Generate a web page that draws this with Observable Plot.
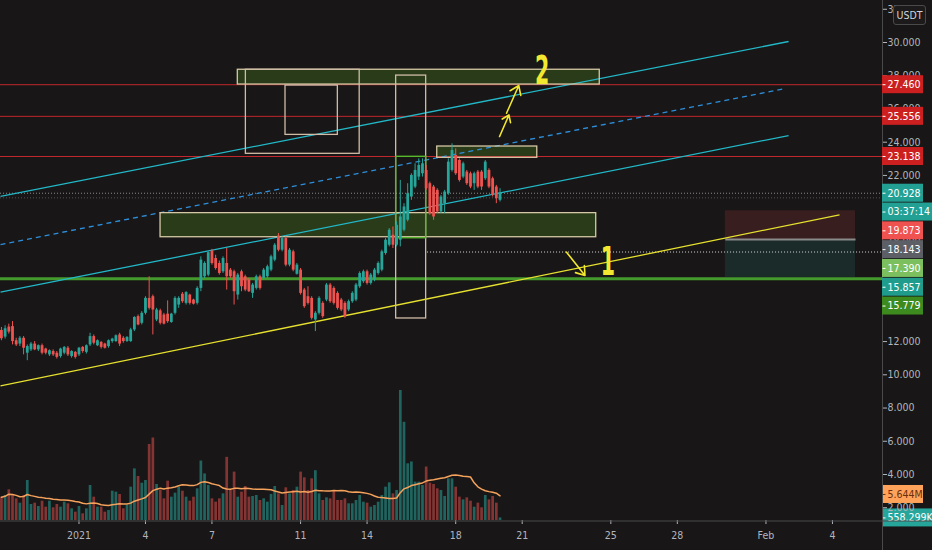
<!DOCTYPE html>
<html><head><meta charset="utf-8">
<script src="https://cdn.jsdelivr.net/npm/d3@7"></script>
<script src="https://cdn.jsdelivr.net/npm/@observablehq/plot@0.6"></script>
<style>
html,body{margin:0;padding:0;background:#181616;overflow:hidden;}
#chart{position:relative;width:932px;height:550px;background:#181616;}
#chart svg{position:absolute;left:0;top:0;}
#usdt{position:absolute;left:893px;top:5px;width:31px;height:18px;border:1px solid #4a4a4a;border-radius:3px;background:#1c1a1a;color:#d1d4dc;font:10.5px 'DejaVu Sans Condensed',sans-serif;line-height:18px;text-align:center;}
</style></head><body>
<div id="chart"></div>
<script>
// ---------- candle data (4h candles) ----------
const candleStart = "2020-12-28T12:00Z";
const candleHours = 4;
const open  = [12.67,12.27,12.87,12.90,12.05,11.85,12.20,11.30,11.50,11.85,11.50,11.75,11.55,11.20,11.40,11.30,11.10,11.30,11.60,11.10,11.35,11.20,11.65,11.35,11.80,12.30,11.75,11.95,11.85,11.70,12.00,12.00,12.40,12.20,12.00,12.00,12.70,13.50,13.10,13.70,14.60,14.70,13.30,13.85,13.60,13.65,13.15,13.70,14.20,14.85,14.30,14.80,14.50,14.30,15.20,15.90,16.00,17.45,17.00,16.70,16.20,16.70,16.30,16.20,14.80,16.20,15.90,15.70,14.90,15.20,15.90,15.80,15.90,16.30,16.90,18.35,17.50,18.20,16.60,17.40,16.05,16.30,15.10,14.70,14.60,13.30,13.70,14.30,14.50,15.40,15.20,14.90,14.50,14.30,13.90,14.40,14.50,15.30,15.60,16.20,15.50,15.70,16.10,16.30,17.30,17.80,18.40,17.80,18.10,18.70,19.30,20.70,21.30,21.90,22.10,22.30,21.50,21.30,21.10,19.80,20.30,20.90,22.30,23.20,22.90,21.90,22.20,22.10,21.50,22.20,22.20,21.80,22.30,21.80,21.30,20.50];
const high  = [12.85,12.95,13.05,13.20,12.20,12.30,12.30,11.80,11.95,12.00,11.80,11.85,11.60,11.50,11.50,11.40,11.60,11.70,11.70,11.45,11.40,11.65,11.70,11.80,12.50,12.40,12.10,12.00,11.90,12.10,12.20,12.40,12.50,12.30,12.30,12.80,13.50,13.60,13.80,14.70,15.90,14.80,14.00,13.95,13.70,14.45,13.70,14.70,14.70,14.95,15.00,14.85,14.55,15.30,17.10,16.80,17.40,17.55,17.20,16.85,17.10,17.60,16.40,16.30,16.10,16.30,16.00,15.80,15.50,16.00,16.00,16.40,16.60,17.20,17.90,18.50,18.30,18.30,17.60,17.50,16.70,16.40,15.20,15.30,14.70,13.80,14.70,14.40,15.50,15.50,15.30,15.00,14.60,14.40,14.50,15.00,15.50,16.20,16.30,16.30,16.10,16.40,16.80,17.50,18.20,18.80,18.90,19.20,21.70,20.30,21.50,22.10,22.70,23.00,23.00,22.60,21.60,21.40,21.20,20.80,21.10,23.00,23.90,23.60,23.00,22.80,22.30,22.20,22.20,22.30,22.30,22.90,22.40,21.90,21.40,21.20];
const low   = [12.05,12.15,12.45,11.80,11.70,11.70,11.20,10.85,11.40,11.45,11.40,11.20,11.20,11.10,11.10,10.95,11.00,11.20,11.10,11.00,10.95,11.10,11.30,11.25,11.70,11.80,11.70,11.55,11.55,11.60,11.90,11.95,11.70,11.90,11.95,11.95,12.60,12.95,13.00,13.60,13.90,12.40,13.20,13.00,13.00,13.10,13.10,13.60,14.00,14.30,14.20,14.20,14.20,14.20,15.00,15.80,15.90,16.60,16.30,16.00,16.10,15.10,15.80,14.20,14.50,15.00,15.00,14.95,14.60,15.10,15.10,15.70,15.80,16.20,16.80,17.40,17.40,16.50,16.50,16.20,16.00,14.80,14.00,14.20,13.30,12.60,13.60,13.40,14.40,14.30,14.20,13.90,13.80,13.40,13.80,14.30,14.40,15.20,15.50,15.40,15.40,15.60,16.00,16.20,17.20,17.70,17.60,17.70,17.70,18.60,19.20,20.50,21.20,21.70,21.90,21.10,19.60,19.30,19.70,19.70,19.70,20.80,22.20,22.00,21.60,21.80,21.40,21.20,21.10,21.20,21.10,21.70,21.20,20.70,20.30,20.40];
const close = [12.17,12.77,12.57,12.00,11.80,12.20,11.60,11.70,11.85,11.50,11.75,11.30,11.30,11.45,11.20,11.05,11.55,11.65,11.20,11.40,11.05,11.60,11.40,11.75,12.30,11.90,12.05,11.65,11.60,12.05,12.15,12.35,11.85,12.00,12.25,12.70,13.45,13.00,13.70,14.60,14.00,13.90,13.90,13.10,13.05,13.20,13.65,14.60,14.60,14.40,14.95,14.30,14.25,15.20,16.90,16.70,17.35,16.70,16.40,16.10,17.00,15.90,15.90,15.00,16.00,15.30,15.10,15.00,15.40,15.90,15.20,16.30,16.50,17.10,17.80,17.50,18.20,16.60,17.50,16.30,16.60,14.90,14.10,14.30,13.40,13.70,14.60,13.50,15.40,14.40,14.30,14.00,13.90,13.50,14.40,14.90,15.40,16.10,16.20,15.50,16.00,16.30,16.70,17.40,18.10,18.70,17.80,19.00,19.50,20.10,20.90,22.00,22.30,22.60,22.70,21.20,19.70,19.50,19.80,20.70,21.00,22.80,23.50,22.10,21.70,22.70,21.50,21.30,22.10,21.30,21.30,22.80,21.30,20.80,20.60,20.93];
// volume in millions
const volume = [5.06,5.42,6.65,5.42,4.70,3.76,5.42,8.68,3.47,3.76,3.04,4.19,2.89,4.19,2.75,3.47,2.89,3.98,3.62,2.53,1.81,3.04,1.45,2.53,7.59,5.06,2.89,2.89,1.81,2.17,6.36,6.15,5.64,2.53,3.25,7.23,11.2,9.54,8.10,8.68,16.5,17.9,7.81,6.51,4.70,8.53,5.06,5.93,7.23,6.36,5.06,4.19,5.06,6.87,12.9,10.1,7.59,4.70,3.98,4.70,5.78,13.7,6.51,10.5,5.06,6.15,7.38,5.06,5.21,5.42,4.34,4.70,3.98,5.64,7.38,5.78,3.25,7.09,5.78,6.51,7.23,10.5,9.26,6.51,9.04,10.8,5.78,4.34,4.92,4.70,6.51,4.34,4.34,4.70,3.62,3.62,4.34,5.42,3.98,3.76,2.89,3.25,3.98,5.42,7.23,8.17,5.78,6.51,28.2,21.3,12.3,12.7,8.32,8.32,7.59,11.6,8.10,7.81,6.87,6.51,5.21,9.04,9.04,7.23,5.06,4.48,4.92,4.19,2.89,3.76,2.75,5.42,4.48,5.21,3.76,0.558];
const volumeMaLength = 20;

// ---------- axis ticks ----------
const xTickDates  = ["2021-01-01","2021-01-04","2021-01-07","2021-01-11","2021-01-14","2021-01-18","2021-01-21","2021-01-25","2021-01-28","2021-02-01","2021-02-04"];
const xTickLabels = ["2021","4","7","11","14","18","21","25","28","Feb","4"];
const yTicks = [2,4,6,8,10,12,14,16,18,20,22,24,26,28,30,32];

// ---------- drawings (time, price anchors) ----------
const resistanceLevels = [27.460, 25.556, 23.138];
const supportLevel = [15.779];
const lastPrice = [20.928];
const secondaryDotted = [20.65];
const rayLevel = [{from:"2021-01-16T17:30Z", price:17.390}];
const filledZones = [
  {from:"2021-01-08T04:00Z", to:"2021-01-24T12:00Z", top:28.36, bottom:27.47},
  {from:"2021-01-04T16:20Z", to:"2021-01-24T08:10Z", top:19.73, bottom:18.28},
  {from:"2021-01-17T04:00Z", to:"2021-01-21T16:20Z", top:23.74, bottom:23.06}
];
const outlineBoxes = [
  {from:"2021-01-08T12:45Z", to:"2021-01-13T16:00Z", top:28.36, bottom:23.30},
  {from:"2021-01-10T07:40Z", to:"2021-01-12T16:20Z", top:27.41, bottom:24.44},
  {from:"2021-01-15T07:30Z", to:"2021-01-16T16:00Z", top:28.01, bottom:13.39}
];
const greenBox = [{from:"2021-01-15T07:30Z", to:"2021-01-16T16:00Z", top:23.12, bottom:18.22}];
const channelLines = [
  {t1:"2020-12-28T11:00Z", p1:20.74, t2:"2021-02-02T00:30Z", p2:30.06},
  {t1:"2020-12-28T11:00Z", p1:14.97, t2:"2021-02-02T00:30Z", p2:24.40}
];
const channelMid = [{t1:"2020-12-28T11:00Z", p1:17.84, t2:"2021-02-01T21:00Z", p2:27.23}];
const yellowTrend = [{t1:"2020-12-28T11:00Z", p1:9.33, t2:"2021-02-04T07:40Z", p2:19.63}];
const arrows = [
  {t1:"2021-01-19T23:30Z", p1:24.34, t2:"2021-01-20T09:40Z", p2:25.64},
  {t1:"2021-01-20T07:00Z", p1:25.74, t2:"2021-01-20T20:20Z", p2:27.41},
  {t1:"2021-01-23T00:00Z", p1:17.38, t2:"2021-01-23T20:00Z", p2:15.98}
];
const targetTexts = [
  {t:"2021-01-21T21:40Z", p:28.25, text:"2"},
  {t:"2021-01-24T20:50Z", p:16.76, text:"1"}
];
const position = {from:"2021-01-30T04:00Z", to:"2021-02-05T01:00Z", stop:19.873, entry:18.143, target:15.857};

// right-axis price labels
const priceLabelText  = ["27.460","25.556","23.138","20.928","03:37:14","19.873","18.143","17.390","15.857","15.779"];
const priceLabelValue = [27.460, 25.556, 23.138, 20.928, 20.928, 19.873, 18.143, 17.390, 15.857, 15.779];
const priceLabelKind  = ["level","level","level","last","timer","stop","entry","ray","target","support"];
const volumeLabelText  = ["5.644M","558.299K"];
const volumeLabelValue = [5.644, 0.558];
const volumeLabelKind  = ["ma","vol"];

// ---------- layout & style ----------
const W = 932, H = 550, MR = 50, MB = 30;
const FONT = "'DejaVu Sans Condensed','DejaVu Sans',sans-serif";
const UP = "#26a69a", DOWN = "#ef5350";
const labelColors = {
  level:["#cc2020","#ffffff"], last:["#22a093","#ffffff"], timer:["#22a093","#ffffff"],
  stop:["#f0524f","#ffffff"], entry:["#5d5f66","#ffffff"], ray:["#7cbf5e","#ffffff"],
  target:["#1f9c8c","#ffffff"], support:["#3d8b1f","#ffffff"],
  ma:["#ffa35a","#6b2e0e"], vol:["#26a69a","#ffffff"]
};
const X_DOMAIN = [new Date("2020-12-28T11:00Z"), new Date("2021-02-06T06:13Z")];
const Y_DOMAIN = [1.231, 32.528];
const V_DOMAIN = [0, 112.8];

const T = s => new Date(s);
const t0 = Date.parse(candleStart);
const candles = open.map((o, i) => ({
  t: new Date(t0 + i * candleHours * 3600e3), o, h: high[i], l: low[i], c: close[i], v: volume[i], up: close[i] >= o
}));

const xs = Plot.scale({x: {type: "utc", domain: X_DOMAIN, range: [0, W - MR]}});
const ys = Plot.scale({y: {type: "linear", domain: Y_DOMAIN, range: [H - MB, 0]}});
const vs = Plot.scale({y: {type: "linear", domain: V_DOMAIN, range: [H - MB, 0]}});

function stackLabels(texts, values, kinds, scale) {
  let prev = -Infinity;
  return texts.map((text, i) => {
    let p = scale.apply(values[i]);
    if (p < prev + 18.8) p = prev + 18.8;
    prev = p;
    return {text, p, kind: kinds[i], w: text.length >= 8 ? 50 : 41};
  });
}
function labelMarks(labels, scale) {
  return labels.flatMap(l => {
    const [bg, fg] = labelColors[l.kind];
    return [
      Plot.rect([l], {x1: () => X_DOMAIN[1], x2: d => xs.invert(W - MR + d.w),
        y1: d => scale.invert(d.p - 9), y2: d => scale.invert(d.p + 9), fill: bg}),
      Plot.link([l], {x1: () => X_DOMAIN[1], x2: () => xs.invert(W - MR + 3),
        y1: d => scale.invert(d.p), y2: d => scale.invert(d.p), stroke: fg, strokeWidth: 1}),
      Plot.text([l], {x: () => X_DOMAIN[1], y: d => scale.invert(d.p), text: "text", dx: 5,
        textAnchor: "start", fill: fg, fontSize: 10.5})
    ];
  });
}
const priceLabels = stackLabels(priceLabelText, priceLabelValue, priceLabelKind, ys);
const volumeLabels = stackLabels(volumeLabelText, volumeLabelValue, volumeLabelKind, vs);
const labelMap = new Map(xTickDates.map((d, i) => [+new Date(d + "T00:00Z"), xTickLabels[i]]));
// like the trading UI, axis ticks sitting under a price label are not drawn
const visibleYTicks = yTicks.filter(v => priceLabels.every(l => Math.abs(ys.apply(v) - l.p) >= 7));

// ---------- volume pane ----------
const volPlot = Plot.plot({
  width: W, height: H, marginLeft: 0, marginRight: MR, marginTop: 0, marginBottom: MB,
  style: {background: "none", fontFamily: FONT, overflow: "visible"},
  x: {type: "utc", domain: X_DOMAIN, axis: null},
  y: {domain: V_DOMAIN, axis: null},
  marks: [
    Plot.ruleX(candles, {filter: d => d.up, x: "t", y1: () => 0, y2: "v", stroke: UP, strokeOpacity: 0.55, strokeWidth: 2.7}),
    Plot.ruleX(candles, {filter: d => !d.up, x: "t", y1: () => 0, y2: "v", stroke: DOWN, strokeOpacity: 0.5, strokeWidth: 2.7}),
    Plot.lineY(candles, Plot.windowY({k: volumeMaLength, anchor: "end", reduce: "mean"}, {x: "t", y: "v", stroke: "#f5a25d", strokeWidth: 1.5})),
    ...labelMarks(volumeLabels, vs)
  ]
});

// ---------- price pane ----------
const lineOpts = (stroke, extra = {}) => ({x1: d => T(d.t1), y1: "p1", x2: d => T(d.t2), y2: "p2", stroke, strokeWidth: 1.3, ...extra});
const mainPlot = Plot.plot({
  width: W, height: H, marginLeft: 0, marginRight: MR, marginTop: 0, marginBottom: MB,
  style: {background: "none", color: "#b2b5be", fontFamily: FONT, fontSize: "10.5px", overflow: "visible"},
  x: {type: "utc", domain: X_DOMAIN, ticks: xTickDates.map(d => new Date(d + "T00:00Z")),
      tickFormat: d => labelMap.get(+d), tickSize: 4, tickPadding: 7, label: null},
  y: {domain: Y_DOMAIN, axis: "right", ticks: visibleYTicks, tickFormat: d => d.toFixed(3), tickSize: 4, tickPadding: 1, label: null},
  marks: [
    // position tool
    Plot.rect([position], {x1: d => T(d.from), x2: d => T(d.to), y1: "stop", y2: "entry", fill: DOWN, fillOpacity: 0.15}),
    Plot.rect([position], {x1: d => T(d.from), x2: d => T(d.to), y1: "entry", y2: "target", fill: UP, fillOpacity: 0.15}),
    Plot.link([position], {x1: d => T(d.from), x2: d => T(d.to), y1: "entry", y2: "entry", stroke: "#8a8a8a", strokeWidth: 2}),
    // filled zones
    Plot.rect(filledZones, {x1: d => T(d.from), x2: d => T(d.to), y1: "top", y2: "bottom", fill: "#5fb526", fillOpacity: 0.24}),
    // horizontal levels
    Plot.ruleY(resistanceLevels, {stroke: "#c0282d", strokeWidth: 1}),
    Plot.ruleY(supportLevel, {stroke: "#449a2c", strokeWidth: 3}),
    Plot.ruleY(lastPrice, {stroke: "#8c8c8c", strokeDasharray: "1,2"}),
    Plot.ruleY(secondaryDotted, {stroke: "#555555", strokeDasharray: "1,2"}),
    Plot.ruleY(rayLevel, {y: "price", x1: d => T(d.from), x2: () => X_DOMAIN[1], stroke: "#d8d8d8", strokeDasharray: "1,2"}),
    // trend lines
    Plot.link(channelLines, lineOpts("#22b8c8")),
    Plot.link(channelMid, lineOpts("#2d8fdc", {strokeDasharray: "5,4"})),
    Plot.link(yellowTrend, lineOpts("#e6e030")),
    // zone borders & boxes
    Plot.rect(filledZones, {x1: d => T(d.from), x2: d => T(d.to), y1: "top", y2: "bottom", fill: "none", stroke: "#d6c8a6", strokeWidth: 1.3}),
    Plot.rect(outlineBoxes, {x1: d => T(d.from), x2: d => T(d.to), y1: "top", y2: "bottom", fill: "none", stroke: "#d0bca6", strokeWidth: 1.3}),
    Plot.rect(greenBox, {x1: d => T(d.from), x2: d => T(d.to), y1: "top", y2: "bottom", fill: "none", stroke: "#58b82e", strokeWidth: 1.4}),
    // candles
    Plot.ruleX(candles, {filter: d => d.up, x: "t", y1: "l", y2: "h", stroke: UP, strokeWidth: 1}),
    Plot.ruleX(candles, {filter: d => !d.up, x: "t", y1: "l", y2: "h", stroke: DOWN, strokeWidth: 1}),
    Plot.ruleX(candles, {filter: d => d.up, x: "t", y1: "o", y2: "c", stroke: UP, strokeWidth: 2.8}),
    Plot.ruleX(candles, {filter: d => !d.up, x: "t", y1: "o", y2: "c", stroke: DOWN, strokeWidth: 2.8}),
    // annotations
    Plot.arrow(arrows, {x1: d => T(d.t1), y1: "p1", x2: d => T(d.t2), y2: "p2", stroke: "#f2e830", strokeWidth: 1.6, headLength: 10, headAngle: 70}),
    Plot.text(targetTexts, {x: d => T(d.t), y: "p", text: "text", fill: "#f2e830", fontSize: 38, fontWeight: "bold"}),
    // frame separators
    Plot.ruleX([X_DOMAIN[1]], {y1: () => ys.invert(H), y2: () => Y_DOMAIN[1], stroke: "#4a4a4a"}),
    Plot.ruleY([ys.invert(H - MB + 0.5)], {x1: () => X_DOMAIN[0], x2: () => xs.invert(W), stroke: "#4a4a4a"}),
    ...labelMarks(priceLabels, ys)
  ]
});

// narrow the hand-drawn target digits like the drawing tool's condensed font
d3.select(mainPlot).selectAll('g[font-size="38"] text').each(function () {
  let tr = this.getAttribute("transform");
  if (!tr) {
    const x = +this.getAttribute("x") || 0, y = +this.getAttribute("y") || 0;
    this.removeAttribute("x"); this.removeAttribute("y");
    tr = `translate(${x},${y})`;
  }
  this.setAttribute("transform", tr + " scale(0.6,1.05)");
});

const chart = document.getElementById("chart");
chart.appendChild(volPlot);
chart.appendChild(mainPlot);
const badge = document.createElement("div");
badge.id = "usdt"; badge.textContent = "USDT";
chart.appendChild(badge);
</script>
</body></html>
